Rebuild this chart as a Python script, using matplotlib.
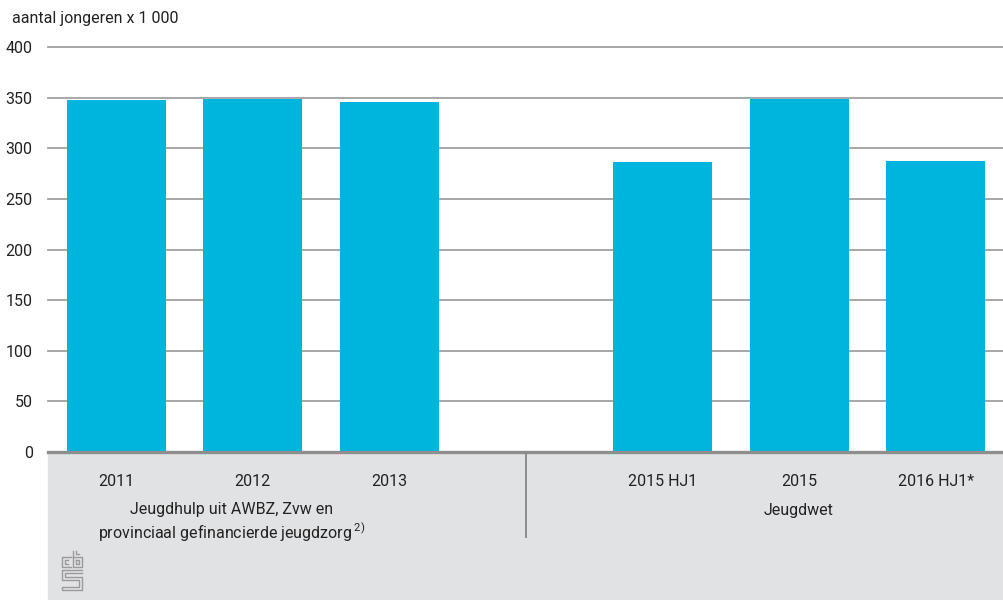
import matplotlib.pyplot as plt
from matplotlib.patches import Rectangle
from matplotlib.lines import Line2D

# aantal jongeren met jeugdhulp (x 1 000)
labels_old = ["2011", "2012", "2013"]
values_old = [347.5, 349, 346]
labels_new = ["2015 HJ1", "2015", "2016 HJ1*"]
values_new = [286.5, 349, 287.5]
group_old = "Jeugdhulp uit AWBZ, Zvw en\nprovinciaal gefinancierde jeugdzorg$\\,^{\\mathregular{2)}}$"
group_new = "Jeugdwet"
y_ticks = [0, 50, 100, 150, 200, 250, 300, 350, 400]

plt.rcParams['font.family'] = ['Roboto', 'DejaVu Sans']
W, H = 1004, 600
fig = plt.figure(figsize=(W / 100, H / 100), dpi=100)

def px(x, y):
    return x / W, 1 - y / H

# grijze band onder de as
fig.patches.append(Rectangle((48 / W, 0), 1 - 48 / W, 1 - 452 / H,
                             transform=fig.transFigure, color='#e1e2e4', zorder=-5))

ax = fig.add_axes([48 / W, 1 - 452 / H, 956 / W, 405 / H])
ax.set_facecolor('none')

pos_old = list(range(len(labels_old)))
pos_new = [len(labels_old) + 1 + i for i in range(len(labels_new))]
bar_color = '#00b5dd'
ax.bar(pos_old, values_old, width=0.725, color=bar_color, zorder=3)
ax.bar(pos_new, values_new, width=0.725, color=bar_color, zorder=3)

ax.set_xlim(-0.5, pos_new[-1] + 0.5)
ax.set_ylim(0, 400)
ax.set_yticks(y_ticks)
ax.set_yticklabels([str(v) for v in y_ticks], fontsize=11.5, color='#222222')
ax.set_xticks(pos_old + pos_new)
ax.set_xticklabels(labels_old + labels_new, fontsize=11.5, color='#222222')
ax.tick_params(axis='y', length=0, pad=11)
ax.tick_params(axis='x', length=0, pad=16)

for v in y_ticks[1:]:
    ax.axhline(v, color='#a0a0a0', lw=1.3, zorder=1, clip_on=False)
for s in ax.spines.values():
    s.set_visible(False)
ax.axhline(0, color='#8e8e8e', lw=2.4, zorder=4, clip_on=False)

# scheidingslijn tussen de groepen
sep_x = len(labels_old)
ax.plot([sep_x, sep_x], [0, -85 / 405 * 400], color='#8c8c8c', lw=1.4,
        clip_on=False, zorder=4)

fig.text(*px(232, 523), group_old, ha='center', va='center', fontsize=11.5,
         color='#222222', linespacing=1.25)
fig.text(*px(799, 510), group_new, ha='center', va='center', fontsize=11.5,
         color='#222222')
fig.text(*px(12, 18), "aantal jongeren x 1 000", ha='left', va='center',
         fontsize=11.5, color='#222222')

# cbs logo
logo = [
    [(71, 557), (62, 557), (62, 567), (71, 567)],
    [(68, 560), (65, 560), (65, 564), (68, 564)],
    [(73, 551), (73, 567), (82, 567), (82, 557), (73, 557)],
    [(76, 551), (76, 554), (79, 554)],
    [(76, 560), (79, 560), (79, 564), (76, 564), (76, 560)],
    [(82, 570), (62, 570), (62, 580), (79, 580), (79, 587), (62, 587), (62, 590), (82, 590), (82, 577), (65, 577), (65, 573), (82, 573)],
]
for path in logo:
    xs = [p[0] / W for p in path]
    ys = [1 - p[1] / H for p in path]
    fig.lines.append(Line2D(xs, ys, transform=fig.transFigure, color='#9a9a9a', lw=1.0))

fig.savefig('out.png', dpi=100)
